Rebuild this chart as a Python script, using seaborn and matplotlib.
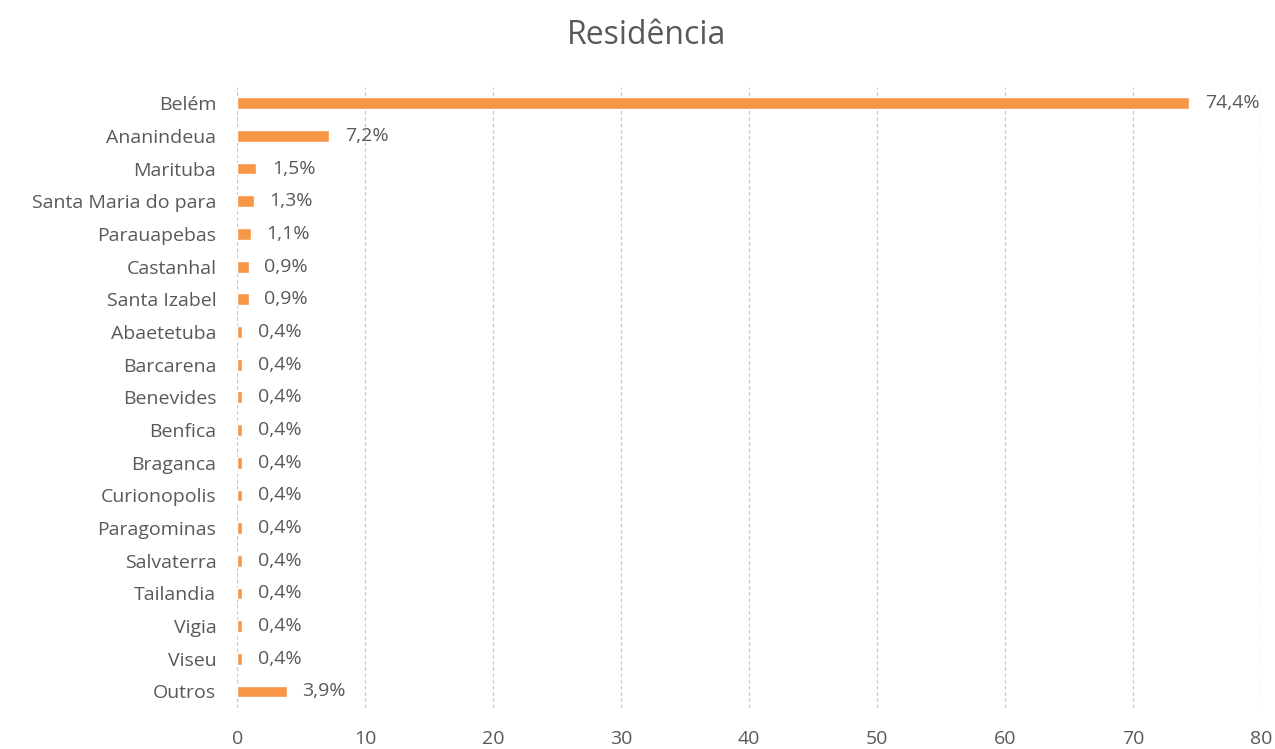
import matplotlib
matplotlib.use("Agg")
import matplotlib.pyplot as plt
import seaborn as sns
import pandas as pd

categories = ["Belém", "Ananindeua", "Marituba", "Santa Maria do para", "Parauapebas",
              "Castanhal", "Santa Izabel", "Abaetetuba", "Barcarena", "Benevides",
              "Benfica", "Braganca", "Curionopolis", "Paragominas", "Salvaterra",
              "Tailandia", "Vigia", "Viseu", "Outros"]
values = [74.4, 7.2, 1.5, 1.3, 1.1, 0.9, 0.9, 0.4, 0.4, 0.4, 0.4, 0.4, 0.4, 0.4, 0.4,
          0.4, 0.4, 0.4, 3.9]
x_ticks = [0, 10, 20, 30, 40, 50, 60, 70, 80]

df = pd.DataFrame({"cidade": categories, "pct": values})

sns.set_style("white")
plt.rcParams["font.family"] = ["Open Sans", "DejaVu Sans"]

text_color = "#595959"
bar_color = "#F79646"

fig = plt.figure(figsize=(12.75, 7.49), dpi=100)
ax = fig.add_axes([0.186, 0.055, 0.803, 0.829])

sns.barplot(data=df, x="pct", y="cidade", color=bar_color, orient="h",
            width=0.36, ax=ax, saturation=1)

ax.set_xlim(0, 80)
ax.set_xticks(x_ticks)
ax.set_xticklabels([str(t) for t in x_ticks], fontsize=14, color=text_color)
ax.tick_params(axis="y", labelsize=14, labelcolor=text_color, length=0, pad=15)
ax.tick_params(axis="x", length=0, pad=16)
ax.set_xlabel("")
ax.set_ylabel("")
for s in ax.spines.values():
    s.set_visible(False)
ax.xaxis.grid(True, color="#C8C8C8", linestyle=(0, (3, 2)), linewidth=0.9)
ax.set_axisbelow(True)

for i, v in enumerate(values):
    ax.text(v + 1.2, i, f"{v:.1f}%".replace(".", ","), va="center", ha="left",
            fontsize=14, color=text_color)

fig.suptitle("Residência", fontsize=23, color=text_color, x=0.507, y=0.975)

fig.savefig("out.png", dpi=100)
